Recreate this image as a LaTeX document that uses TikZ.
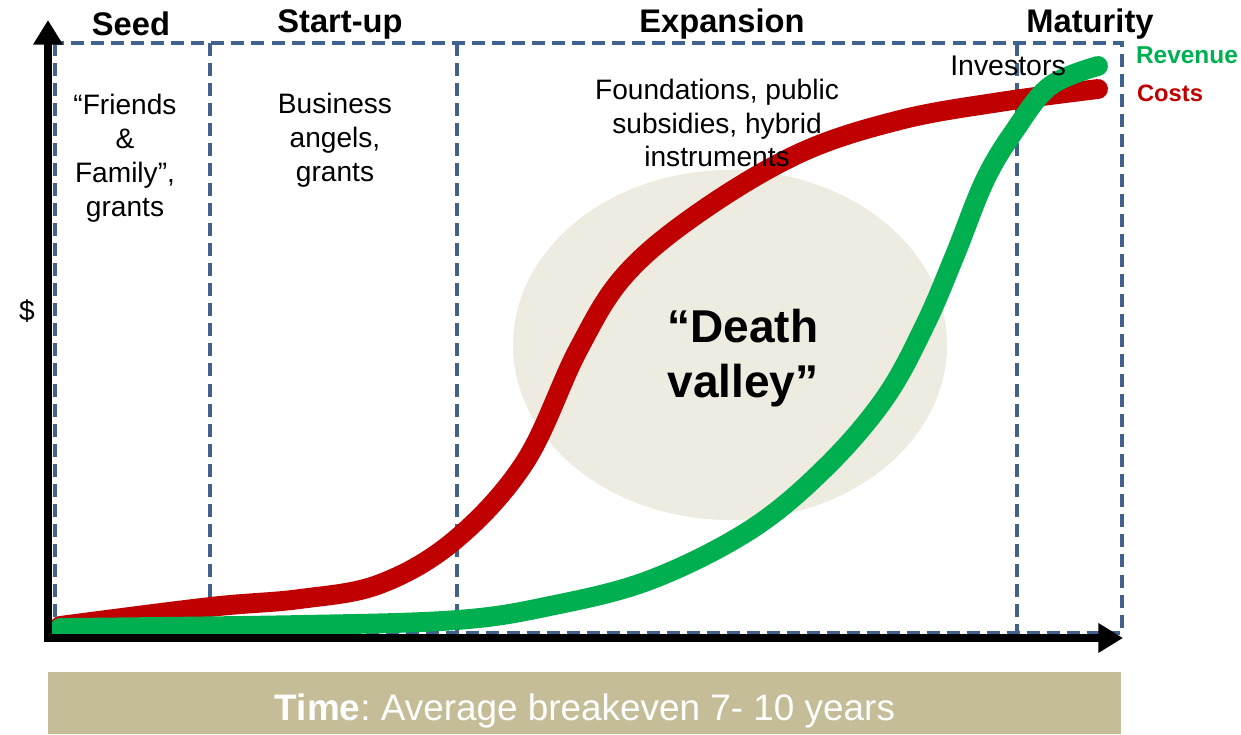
\documentclass[tikz,border=0pt]{standalone}
\usepackage{fontspec}
\setmainfont{Liberation Sans}
\usetikzlibrary{arrows.meta}
\definecolor{phaseblue}{RGB}{65,97,143}
\definecolor{costred}{RGB}{192,0,0}
\definecolor{revgreen}{RGB}{0,176,80}
\definecolor{timetan}{RGB}{196,189,151}
\definecolor{valleygray}{RGB}{238,236,225}
\frenchspacing
\begin{document}
\begin{tikzpicture}[x=0.02cm,y=-0.02cm,
    phasesty/.style={draw=phaseblue,line width=2.3pt,dash pattern=on 7.4pt off 4pt},
    titlesty/.style={font=\fontsize{18.6}{22}\selectfont\bfseries},
    fundsty/.style={align=center,font=\fontsize{16}{19.3}\selectfont},
    curvesty/.style={line width=11.3pt,line cap=round,line join=round},
    axissty/.style={line width=4pt,-{Triangle[length=14pt,width=16pt]}}]
  \useasboundingbox (0,0) rectangle (1241,734);

  % death valley
  \fill[valleygray] (730,345) ellipse [x radius=217,y radius=175];

  % phases
  \draw[phasesty] (55,43) rectangle (1122,633);
  \draw[phasesty] (210,43) -- (210,633);
  \draw[phasesty] (457,43) -- (457,633);
  \draw[phasesty] (1017,43) -- (1017,633);

  \node[titlesty] (seed) at (131,24) {Seed};
  \node[titlesty] (startup) at (340,24) {Start-up};
  \node[titlesty] (expansion) at (722,24) {Expansion};
  \node[titlesty] (maturity) at (1090,24) {Maturity};

  % curves
  \draw[curvesty,costred] plot[smooth,tension=0.6] coordinates {(60,626) (210,607) (300,599)
    (380,584) (455,540) (525,462) (578,350) (625,275) (700,212) (800,153) (900,120)
    (1000,102) (1098,89)};
  \draw[curvesty,revgreen] plot[smooth,tension=0.6] coordinates {(60,628) (300,625)
    (457,620) (550,606) (650,580) (750,530) (825,468) (885,398) (925,325) (955,255)
    (985,180) (1015,130) (1050,86) (1098,66)};

  % funding sources
  \node[fundsty] (friends) at (125,158) {``Friends\\\&\\Family'',\\grants};
  \node[fundsty] (angels) at (335,140) {Business\\angels,\\grants};
  \node[fundsty] (found) at (717,123) {Foundations, public\\subsidies, hybrid\\instruments};
  \node[font=\fontsize{16.2}{19}\selectfont] (investors) at (1008,66) {Investors};

  \node[font=\fontsize{13.9}{16}\selectfont\bfseries,text=revgreen] (revenue) at (1187,55) {Revenue};
  \node[font=\fontsize{13.5}{16}\selectfont\bfseries,text=costred] (costs) at (1170,93) {Costs};

  \node[align=center,font=\fontsize{26.2}{31}\selectfont\bfseries] (valley) at (743,358)
    {``Death\\valley''};

  % axes
  \coordinate (origin) at (48,638);
  \coordinate (ytip) at (48,20);
  \coordinate (xtip) at (1123,638);
  \draw[axissty] (origin) -- (ytip);
  \draw[axissty] ([xshift=-2pt]origin) -- (xtip);
  \node[font=\fontsize{16}{19}\selectfont] (dollar) at (27,311) {\$};

  % time bar
  \fill[timetan] (48,672) rectangle (1121,734);
  \node[text=white,font=\fontsize{21}{24}\selectfont] (time) at (585,711)
    {\textbf{Time}: Average breakeven 7- 10 years};
\end{tikzpicture}
\end{document}
